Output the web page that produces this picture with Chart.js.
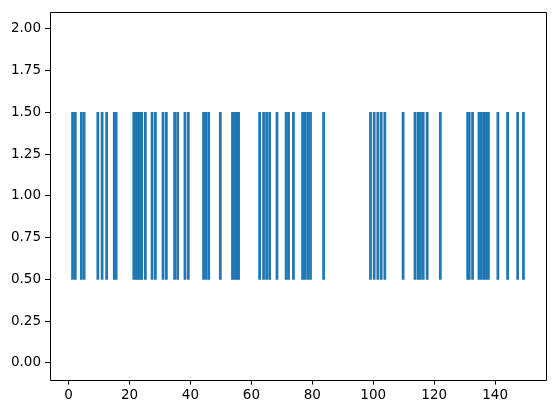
<!DOCTYPE html>
<html>
<head>
<meta charset="utf-8">
<script src="https://cdn.jsdelivr.net/npm/chart.js@4.4.1/dist/chart.umd.min.js"></script>
<style>
  html, body { margin: 0; padding: 0; background: #ffffff; }
  #wrap { width: 556px; height: 413px; position: relative; }
</style>
</head>
<body>
<div id="wrap"><canvas id="c" width="556" height="413"></canvas></div>
<script>
// Event positions (x)
const eventPositions = [
  1.3, 2.2, 4.2, 5.1, 9.6, 11.0, 12.5, 15.0, 15.6,
  21.4, 22.1, 22.8, 23.4, 24.0, 25.2, 27.4, 28.5, 31.0, 32.1,
  34.8, 35.8, 38.2, 39.3, 44.3, 45.1, 46.0, 49.8,
  53.8, 54.5, 55.2, 55.8, 62.7, 64.0, 65.0, 66.0, 68.4,
  71.4, 72.2, 73.8, 76.8, 77.6, 78.5, 79.4, 83.7,
  99.1, 100.3, 101.5, 102.6, 103.8, 109.8, 113.7,
  114.7, 115.5, 116.4, 117.7, 122.0,
  131.0, 131.5, 132.6, 134.7, 135.5, 136.3, 137.0, 137.8,
  140.9, 144.1, 147.4, 149.3
];
const lineOffset = 1.0;
const lineLength = 1.0;
const xTicks = [0, 20, 40, 60, 80, 100, 120, 140];
const yTicks = [0, 0.25, 0.5, 0.75, 1.0, 1.25, 1.5, 1.75, 2.0];
const yLimits = [-0.1, 2.1];

const xMinData = Math.min(...eventPositions);
const xMaxData = Math.max(...eventPositions);
const xRange = xMaxData - xMinData;

const data = eventPositions.map(p => ({ x: p, y: [lineOffset - lineLength / 2, lineOffset + lineLength / 2] }));

const frame = {
  id: 'frame',
  afterDraw(chart) {
    const { ctx, chartArea: a } = chart;
    ctx.save();
    ctx.strokeStyle = '#000000';
    ctx.lineWidth = 1;
    ctx.beginPath();
    const l = Math.round(a.left) + 0.5, r = Math.round(a.right) + 0.5;
    const t = Math.round(a.top) + 0.5, b = Math.round(a.bottom) + 0.5;
    ctx.moveTo(l, b); ctx.lineTo(l, t); ctx.lineTo(r, t); ctx.lineTo(r, b); ctx.lineTo(l, b);
    ctx.stroke();
    ctx.restore();
  }
};

new Chart(document.getElementById('c'), {
  type: 'bar',
  data: {
    datasets: [{
      data: data,
      backgroundColor: '#1f77b4',
      borderWidth: 0,
      barThickness: 2.1,
      grouped: false
    }]
  },
  options: {
    responsive: false,
    animation: false,
    devicePixelRatio: 1,
    layout: { padding: { top: 10, right: 10, left: 0, bottom: 0 } },
    plugins: { legend: { display: false }, tooltip: { enabled: false } },
    scales: {
      x: {
        type: 'linear',
        offset: false,
        min: xMinData - 0.05 * xRange,
        max: xMaxData + 0.05 * xRange,
        afterBuildTicks(scale) { scale.ticks = xTicks.map(v => ({ value: v })); },
        afterFit(scale) { scale.height = 33.4; },
        grid: { display: true, offset: false, drawOnChartArea: false, drawTicks: true, tickLength: 5, color: '#000000', lineWidth: 1 },
        border: { display: false },
        ticks: {
          color: '#000000',
          font: { family: 'DejaVu Sans', size: 13.5 },
          padding: 3,
          maxRotation: 0,
          autoSkip: false,
          callback: v => String(v)
        }
      },
      y: {
        type: 'linear',
        min: yLimits[0],
        max: yLimits[1],
        afterBuildTicks(scale) { scale.ticks = yTicks.map(v => ({ value: v })); },
        afterFit(scale) { scale.width = 50; },
        grid: { display: true, drawOnChartArea: false, drawTicks: true, tickLength: 5, color: '#000000', lineWidth: 1 },
        border: { display: false },
        ticks: {
          color: '#000000',
          font: { family: 'DejaVu Sans', size: 13.5 },
          padding: 4,
          autoSkip: false,
          callback: v => Number(v).toFixed(2)
        }
      }
    }
  },
  plugins: [frame]
});
</script>
</body>
</html>
